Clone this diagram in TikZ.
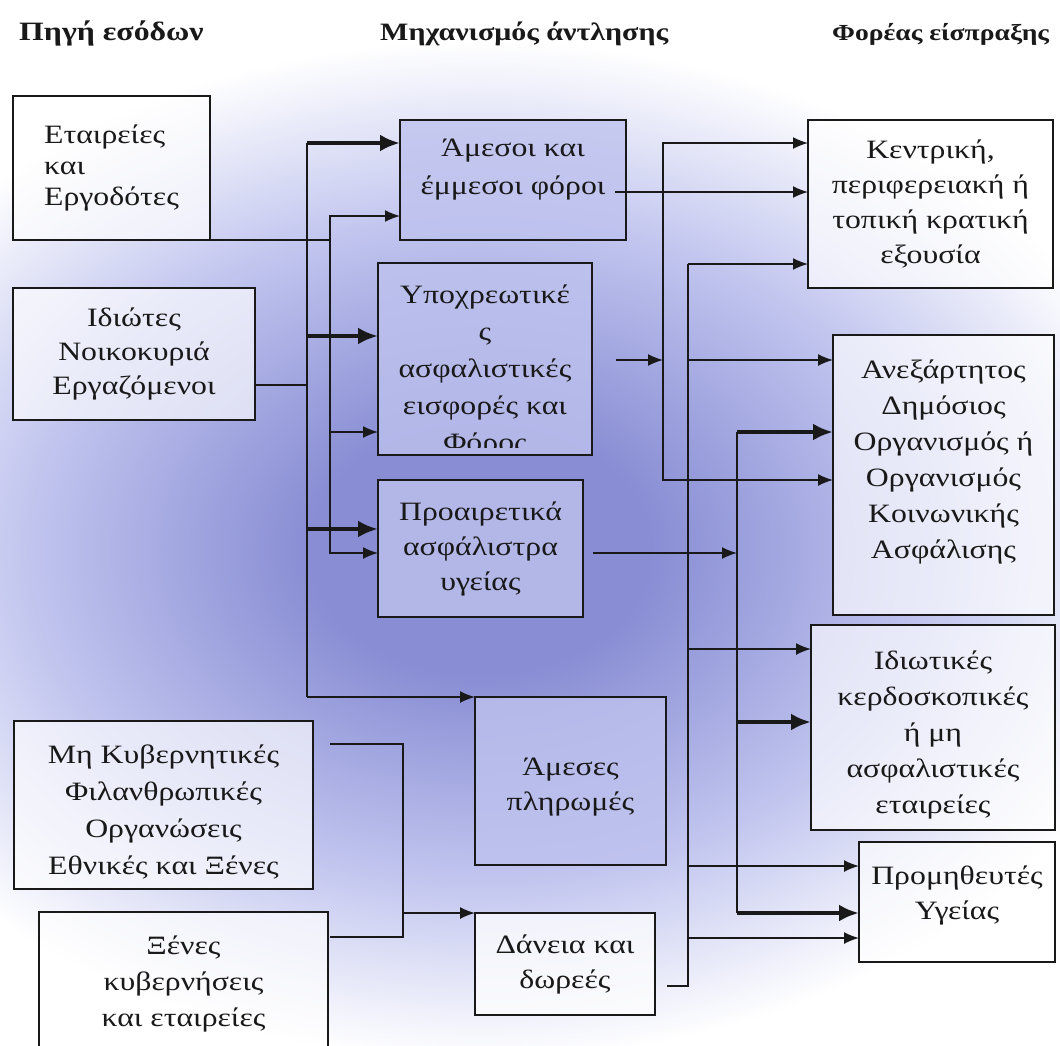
\documentclass[tikz,border=0pt]{standalone}
\usepackage{fontspec}
\setmainfont{Liberation Serif}[FakeStretch=1.2]
\usetikzlibrary{arrows.meta,calc}
\definecolor{bgblue}{RGB}{136,141,212}
\definecolor{bgmid}{RGB}{192,196,238}
\definecolor{midfill}{RGB}{190,194,238}
\definecolor{ink}{RGB}{25,25,25}
\pgfdeclareradialshading{glow}{\pgfpoint{0bp}{0bp}}{color(0bp)=(bgblue); color(6bp)=(bgblue); color(16bp)=(bgmid); color(25bp)=(white); color(50bp)=(white)}
\newcommand{\fs}[1]{\fontsize{26.5}{#1}\selectfont}
\tikzset{
  box/.style={draw=ink, line width=1.6pt, inner sep=0pt, outer sep=0pt, align=center,
    text=ink, anchor=north west, text opacity=1},
  outerbox/.style={box, fill=white, fill opacity=0.65},
  midbox/.style={box, fill=midfill, fill opacity=0.8},
  txt/.style={inner sep=0pt, align=center, text=ink},
  ln/.style={draw=ink, line width=1.6pt},
  arr/.style={draw=ink, line width=1.6pt, -{Latex[length=15pt,width=12pt]}},
  thk/.style={draw=ink, line width=4.8pt, -{Latex[length=20pt,width=17pt]}},
  hdr/.style={anchor=base west, inner sep=0pt, text=ink, font=\bfseries\fontsize{25}{28}\selectfont}
}
\begin{document}
\begin{tikzpicture}[x=1pt,y=-1pt]
\useasboundingbox (0,0) rectangle (1060,1045);
\begin{scope}
\clip (0,0) rectangle (1060,1045);
\fill[white] (0,0) rectangle (1060,1045);
\shade[shading=glow] (-220,40) rectangle (1180,1060);

% headers
\node[hdr, font=\bfseries\fontsize{26.5}{28}\selectfont] (h1) at (19,40) {Πηγή εσόδων};
\node[hdr] (h2) at (380,40) {Μηχανισμός άντλησης};
\node[hdr, font=\bfseries\fontsize{23}{28}\selectfont] (h3) at (832,40) {Φορέας είσπραξης};

% left boxes
\node[outerbox, align=left, font=\fs{31}, minimum width=197pt, minimum height=144pt] (b1) at (13,96) {Εταιρείες\\και\\Εργοδότες};
\node[outerbox, font=\fs{34}, minimum width=242pt, minimum height=132pt] (b2) at (13,288) {Ιδιώτες\\Νοικοκυριά\\Εργαζόμενοι};
\node[outerbox, minimum width=299pt, minimum height=168pt] (b3) at (14,721) {};
\node[txt, font=\fs{37}] (b3t) at ([yshift=-7pt]b3.center) {Μη Κυβερνητικές\\Φιλανθρωπικές\\Οργανώσεις\\Εθνικές και Ξένες};
\node[outerbox, font=\fs{36}, minimum width=289pt, minimum height=144pt] (b4) at (39,912) {Ξένες\\κυβερνήσεις\\και εταιρείες};

% middle boxes
\node[midbox, minimum width=226pt, minimum height=120pt] (m1) at (400,120) {};
\node[txt, font=\fs{38}] (m1t) at ([yshift=10pt]m1.center) {Άμεσοι και\\έμμεσοι φόροι};
\node[midbox, minimum width=214pt, minimum height=192pt] (m2) at (378,263) {};
\begin{scope}
\clip (380,265) rectangle (590,447);
\node[anchor=north, inner sep=0pt, align=center, text=ink, font=\fs{37}] (m2t) at (485,285) {Υποχρεωτικέ\\ς\\ασφαλιστικές\\εισφορές και\\Φόρος};
\end{scope}
\node[midbox, font=\fs{35}, minimum width=205pt, minimum height=137pt] (m3) at (378,480) {Προαιρετικά\\ασφάλιστρα\\υγείας};
\node[midbox, minimum width=191pt, minimum height=168pt] (m4) at (475,697) {};
\node[txt, font=\fs{35}] (m4t) at ([yshift=-6pt]m4.center) {Άμεσες\\πληρωμές};
\node[box, fill=white, fill opacity=0.75, font=\fs{35}, minimum width=180pt, minimum height=102pt] (m5) at (475,913) {Δάνεια και\\δωρεές};

% right boxes
\node[outerbox, font=\fs{35}, minimum width=245pt, minimum height=168pt] (r1) at (808,120) {Κεντρική,\\περιφερειακή ή\\τοπική κρατική\\εξουσία};
\node[outerbox, minimum width=221pt, minimum height=280pt] (r2) at (833,335) {};
\node[txt, font=\fs{36}] (r2t) at ([yshift=13pt]r2.center) {Ανεξάρτητος\\Δημόσιος\\Οργανισμός ή\\Οργανισμός\\Κοινωνικής\\Ασφάλισης};
\node[outerbox, minimum width=244pt, minimum height=205pt] (r3) at (811,625) {};
\node[txt, font=\fs{36}] (r3t) at ([yshift=-7pt]r3.center) {Ιδιωτικές\\κερδοσκοπικές\\ή μη\\ασφαλιστικές\\εταιρείες};
\node[outerbox, minimum width=196pt, minimum height=120pt] (r4) at (859,842) {};
\node[txt, font=\fs{35}] (r4t) at ([yshift=7pt]r4.center) {Προμηθευτές\\Υγείας};

% ---- left connectors
\coordinate (ja) at (330,240);
\draw[ln] (b1.south east) -- (ja);
\draw[arr] (ja) |- (m1.west |- 0,216);
\draw[arr] (ja) |- (m2.west |- 0,432);
\draw[arr] (ja) |- (m3.west |- 0,553);

\coordinate (jb) at (307,385);
\coordinate (t1) at (307,143);
\coordinate (t2) at (307,336);
\coordinate (t3) at (307,529);
\coordinate (t4) at (307,697);
\draw[ln] (b2.east |- jb) -- (jb);
\draw[ln] (t1) -- (t4);
\draw[thk] (t1) -- (m1.west |- t1);
\draw[thk] (t2) -- (m2.west |- t2);
\draw[thk] (t3) -- (m3.west |- t3);
\draw[arr] (t4) -- (m4.north west);

% ---- bottom-left connectors
\coordinate (n1) at (330,744);
\coordinate (n2) at (330,937);
\coordinate (k1) at (403,744);
\coordinate (k2) at (403,937);
\coordinate (k3) at (403,913);
\draw[ln] (n1) -- (k1) -- (k2) -- (n2);
\draw[arr] (k3) -- (m5.north west);

% ---- right connectors
\coordinate (m1o) at (615,192);
\draw[arr] (m1o) -- (r1.west |- m1o);

\coordinate (m2o) at (616,360);
\coordinate (la) at (663,360);
\draw[arr] (m2o) -- (la);
\draw[arr] (la) |- (r1.west |- 0,143);
\draw[arr] (la) |- (r2.west |- 0,480);

\coordinate (lbt) at (688,264);
\coordinate (lb1) at (688,360);
\coordinate (lb2) at (688,649);
\coordinate (lb3) at (688,866);
\coordinate (lb4) at (688,938);
\coordinate (lbb) at (688,986);
\coordinate (m5o) at (667,986);
\draw[ln] (m5o) -- (lbb) -- (lbt);
\draw[arr] (lbt) -- (r1.west |- lbt);
\draw[arr] (lb1) -- (r2.west |- lb1);
\draw[arr] (lb2) -- (r3.west |- lb2);
\draw[arr] (lb3) -- (r4.west |- lb3);
\draw[arr] (lb4) -- (r4.west |- lb4);

\coordinate (m3o) at (593,553);
\coordinate (lcm) at (737,553);
\coordinate (lct) at (737,432);
\coordinate (lc2) at (737,722);
\coordinate (lcb) at (737,913);
\draw[arr] (m3o) -- (lcm);
\draw[ln] (lct) -- (lcb);
\draw[thk] (lct) -- (r2.west |- lct);
\draw[thk] (lc2) -- (r3.west |- lc2);
\draw[thk] (lcb) -- (r4.west |- lcb);
\end{scope}
\end{tikzpicture}
\end{document}
